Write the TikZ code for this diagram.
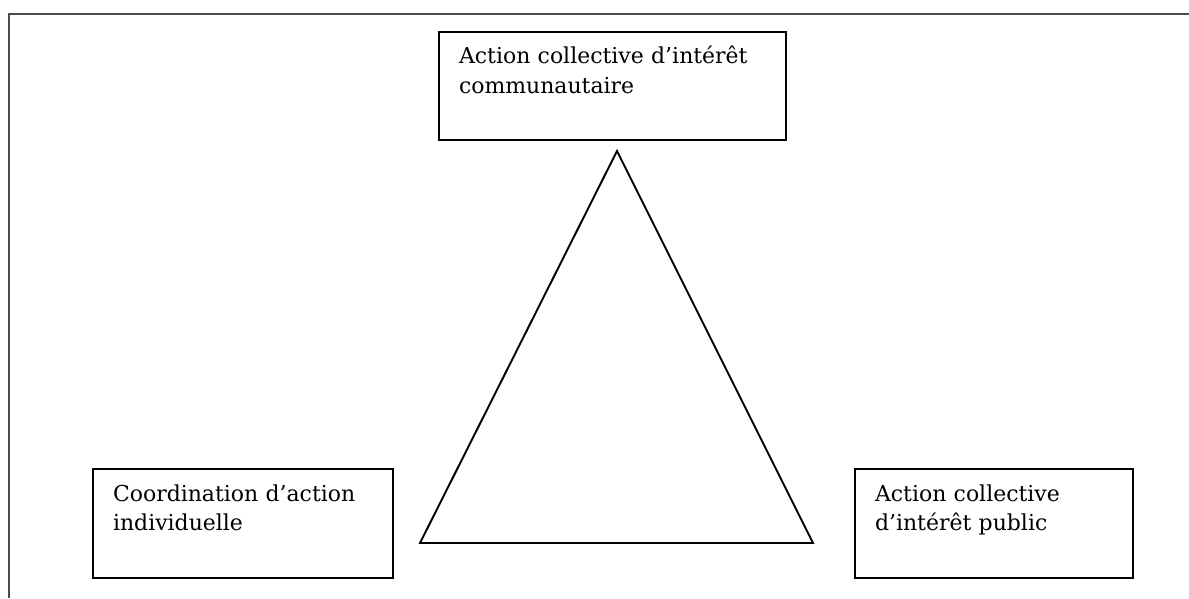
\documentclass[tikz,border=0pt]{standalone}
\usepackage{fontspec}
\setmainfont{DejaVu Serif}

\begin{document}
\begin{tikzpicture}[x=0.02cm, y=-0.02cm,
    pole/.style={draw, line width=1.1pt, rectangle, align=left, inner xsep=0.4cm, inner ysep=0pt, minimum height=2.17cm, font=\fontsize{12.5}{17}\selectfont}]
    \useasboundingbox (0,0) rectangle (1189,598);

    % Outer frame, cut off at the right and bottom
    \draw[line width=1pt, black!70] (9,598) -- (9,14) -- (1189,14);

    \node (communautaire) [pole, text width=6.14cm] at (612.5,86) {Action collective d’intérêt\\communautaire\\[-4pt] \strut};

    \node (individuelle) [pole, text width=5.2cm] at (243,523.5) {Coordination d’action\\individuelle\\[-4pt] \strut};

    \node (public) [pole, text width=4.76cm] at (994,523.5) {Action collective\\d’intérêt public\\[-4pt] \strut};

    % Triangle between the three poles
    \coordinate (apex) at (617,151);
    \coordinate (baseleft) at (420,543);
    \coordinate (baseright) at (813,543);
    \draw[line width=1.1pt] (apex) -- (baseright) -- (baseleft) -- cycle;
\end{tikzpicture}
\end{document}
